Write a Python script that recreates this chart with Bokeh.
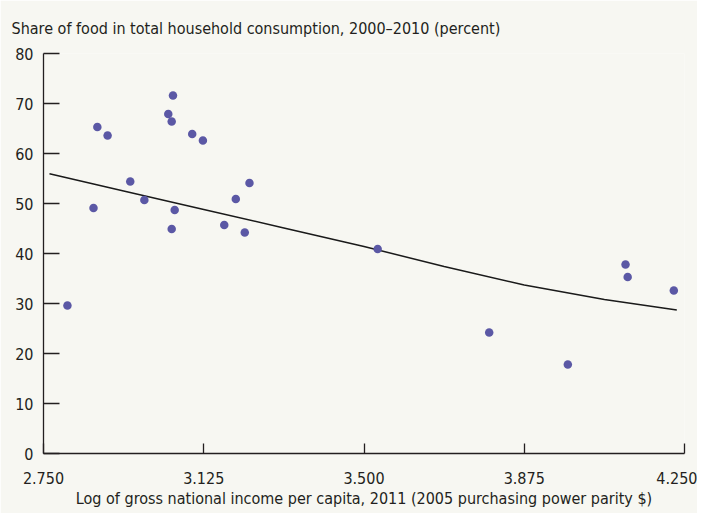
from bokeh.plotting import figure
from bokeh.models import Range1d, FixedTicker, PrintfTickFormatter, ColumnDataSource
from bokeh.embed import file_html
from bokeh.resources import INLINE

# Data
log_gni = [2.806, 2.867, 2.876, 2.900, 2.953, 2.986, 3.042, 3.050, 3.053, 3.050,
           3.057, 3.098, 3.123, 3.173, 3.200, 3.221, 3.232, 3.532, 3.793, 3.977,
           4.112, 4.117, 4.225]
food_share = [29.6, 49.1, 65.3, 63.6, 54.4, 50.7, 67.9, 66.4, 71.6, 44.9,
              48.7, 63.9, 62.6, 45.7, 50.9, 44.2, 54.1, 40.9, 24.2, 17.8,
              37.8, 35.3, 32.6]

# Fitted trend line
trend_x = [2.764, 2.9375, 3.125, 3.3125, 3.5, 3.6875, 3.875, 4.0625, 4.232]
trend_y = [55.95, 52.5, 48.8, 45.1, 41.4, 37.4, 33.7, 30.8, 28.7]

x_ticks = [2.75, 3.125, 3.5, 3.875, 4.25]
y_ticks = [0, 10, 20, 30, 40, 50, 60, 70, 80]

TITLE = "Share of food in total household consumption, 2000\u20132010 (percent)"
FONT = "DejaVu Sans Condensed"
TEXT = "#231f20"
BG = "#f7f7f2"

p = figure(width=697, height=513, output_backend="svg", toolbar_location=None,
           x_range=Range1d(2.75, 4.25), y_range=Range1d(0, 80),
           min_border_left=43, min_border_right=13, min_border_top=53,
           min_border_bottom=60,
           background_fill_color=BG, border_fill_color=BG, outline_line_color=None)

p.title.text = TITLE
p.title.text_font = FONT
p.title.text_font_size = "16px"
p.title.text_font_style = "normal"
p.title.text_color = TEXT
p.title.align = "left"
p.title.offset = -32
p.title.standoff = 32

p.grid.visible = False

src = ColumnDataSource(dict(x=log_gni, y=food_share))
tsrc = ColumnDataSource(dict(x=trend_x, y=trend_y))
p.line("x", "y", source=tsrc, line_color="#1a1a1a", line_width=1.5)
p.scatter("x", "y", source=src, size=8.5, fill_color="#5b58a5", line_color=None)

xa = p.xaxis[0]
xa.ticker = FixedTicker(ticks=x_ticks)
xa.formatter = PrintfTickFormatter(format="%.3f")
xa.axis_label = "Log of gross national income per capita, 2011 (2005 purchasing power parity $)"
ya = p.yaxis[0]
ya.ticker = FixedTicker(ticks=y_ticks)

for ax in (xa, ya):
    ax.axis_line_color = TEXT
    ax.axis_line_width = 1.3
    ax.major_tick_line_color = TEXT
    ax.major_tick_line_width = 1.3
    ax.minor_tick_line_color = None
    ax.major_tick_out = 0
    ax.major_label_text_font = FONT
    ax.major_label_text_font_size = "16px"
    ax.major_label_text_color = TEXT
    ax.axis_label_text_font = FONT
    ax.axis_label_text_font_size = "16px"
    ax.axis_label_text_font_style = "normal"
    ax.axis_label_text_color = TEXT

ya.major_tick_in = 16
ya.major_label_standoff = 10
xa.major_tick_in = 10
xa.major_label_standoff = 18
xa.axis_label_standoff = 2

open("out.html", "w").write(file_html(p, INLINE))
